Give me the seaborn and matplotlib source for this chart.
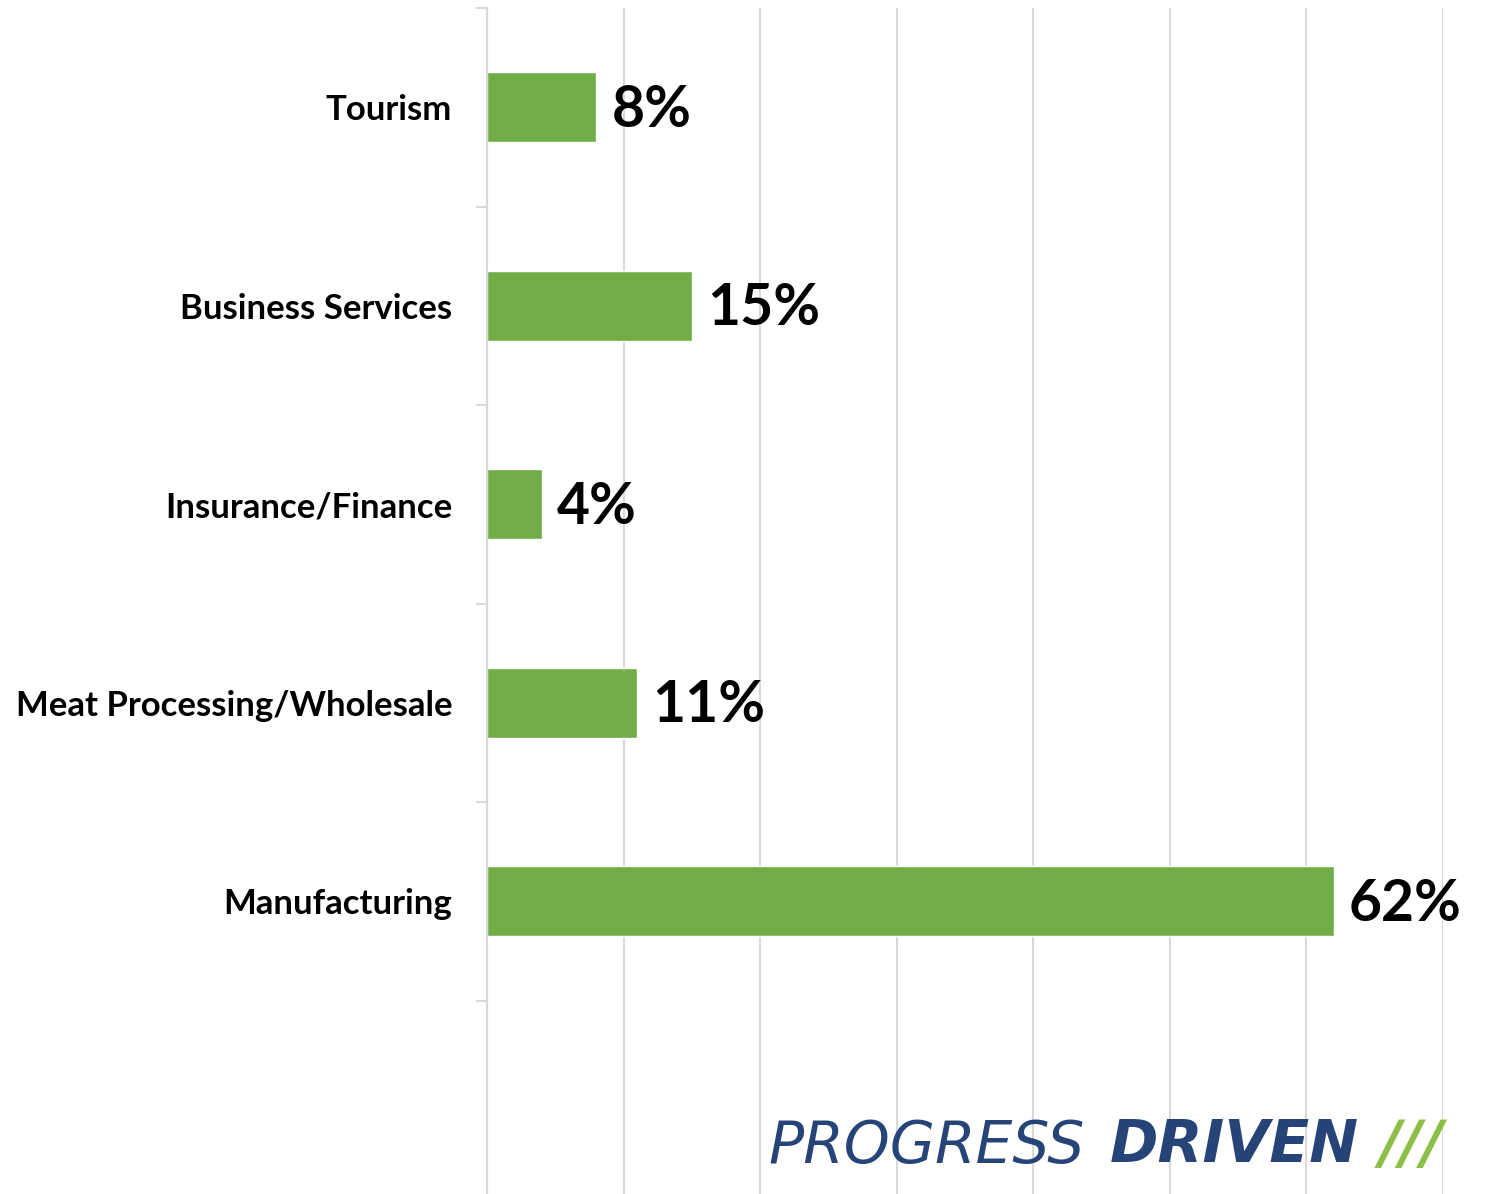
import matplotlib
matplotlib.use("Agg")
import matplotlib.pyplot as plt
import seaborn as sns
import pandas as pd
import numpy as np

categories = ["Tourism", "Business Services", "Insurance/Finance",
              "Meat Processing/Wholesale", "Manufacturing"]
values = [8, 15, 4, 11, 62]
value_labels = ["8%", "15%", "4%", "11%", "62%"]

sns.set_theme(style="white")
plt.rcParams['font.family'] = ['Lato', 'DejaVu Sans']

df = pd.DataFrame({"category": categories, "value": values})

fig = plt.figure(figsize=(14.88, 11.94), dpi=100)
ax = fig.add_axes([487/1488, -5/1194, (1443-487)/1488, 1191/1194])

sns.barplot(data=df, y="category", x="value", orient="h", color="#70AD47",
            width=0.355, saturation=1, ax=ax, order=categories)

ax.set_xlim(0, 70)
ax.set_ylim(5.5, -0.5)
ax.set_xticks(np.arange(0, 71, 10))
ax.set_xticklabels([])
ax.grid(axis="x", color="#D9D9D9", linewidth=1.5)
ax.set_axisbelow(True)
for s in ["top", "right", "bottom"]:
    ax.spines[s].set_visible(False)
ax.spines["left"].set_color("#D9D9D9")
ax.spines["left"].set_linewidth(1.5)
ax.tick_params(axis="x", length=0)

ax.set_yticks(range(len(categories)))
ax.set_yticklabels(categories, fontsize=25, fontweight="bold", color="black")
ax.tick_params(axis="y", which="major", left=False, length=0, pad=25)
ax.set_yticks(np.arange(-0.5, 5.0, 1.0), minor=True)
ax.tick_params(axis="y", which="minor", left=True, length=8, width=1.5, color="#D9D9D9")
ax.set_xlabel("")
ax.set_ylabel("")

for i, (v, lab) in enumerate(zip(values, value_labels)):
    ax.annotate(lab, xy=(v, i), xytext=(11, -2), textcoords="offset points",
                ha="left", va="center", fontsize=41, fontweight="bold", color="black")

# logo
ly = 1 - 1146/1194
fig.text(768/1488, ly, "PROGRESS", fontsize=42, style="italic",
         fontweight="normal", color="#264478", ha="left", va="center",
         family="DejaVu Sans")
fig.text(1110/1488, ly, "DRIVEN", fontsize=42, style="italic",
         fontweight="bold", color="#264478", ha="left", va="center",
         family="DejaVu Sans")
fig.text(1380/1488, ly, "///", fontsize=42, style="italic",
         fontweight="bold", color="#8DBE47", ha="left", va="center",
         family="DejaVu Sans")

fig.savefig("out.png", dpi=100)
